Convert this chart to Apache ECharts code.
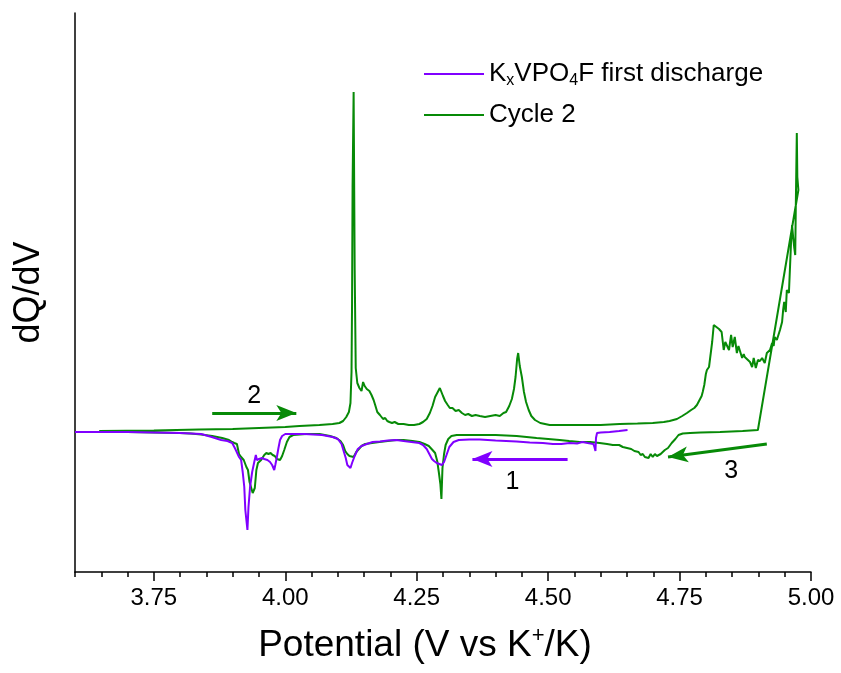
<!DOCTYPE html>
<html>
<head>
<meta charset="utf-8">
<script src="https://cdn.jsdelivr.net/npm/echarts@6/dist/echarts.min.js"></script>
<style>
html,body{margin:0;padding:0;background:#fff;}
#c{width:841px;height:673px;}
</style>
</head>
<body>
<div id="c"></div>
<script>
// ---- data (Potential in V, dQ/dV in arbitrary units) ----
const majorTicks = [3.75, 4.00, 4.25, 4.50, 4.75, 5.00];
const seriesNames = ['KxVPO4F first discharge', 'Cycle 2'];

const cycle2Charge = [
[3.646,0.01],[3.75,0.015],[3.836,0.025],[3.90,0.03],[3.950,0.04],[4.000,0.05],[4.027,0.06],[4.065,0.07],[4.090,0.08],[4.103,0.09],[4.110,0.11],[4.116,0.15],[4.121,0.20],[4.124,0.29],[4.126,0.60],[4.127,1.29],[4.128,2.45],[4.130,3.40],[4.132,1.62],[4.134,0.64],[4.137,0.49],[4.141,0.44],[4.145,0.41],[4.148,0.50],[4.151,0.46],[4.155,0.43],[4.160,0.41],[4.164,0.37],[4.168,0.32],[4.171,0.27],[4.175,0.20],[4.180,0.17],[4.183,0.15],[4.186,0.13],[4.190,0.14],[4.194,0.11],[4.198,0.10],[4.203,0.09],[4.208,0.10],[4.215,0.08],[4.225,0.08],[4.235,0.07],[4.245,0.07],[4.255,0.08],[4.262,0.10],[4.269,0.13],[4.275,0.19],[4.280,0.26],[4.285,0.35],[4.290,0.40],[4.294,0.44],[4.297,0.42],[4.300,0.36],[4.304,0.31],[4.309,0.27],[4.313,0.24],[4.318,0.24],[4.324,0.21],[4.330,0.22],[4.336,0.19],[4.342,0.17],[4.348,0.18],[4.355,0.16],[4.362,0.17],[4.370,0.16],[4.380,0.15],[4.390,0.16],[4.400,0.17],[4.408,0.16],[4.415,0.19],[4.420,0.20],[4.426,0.26],[4.431,0.33],[4.435,0.43],[4.438,0.55],[4.441,0.73],[4.443,0.79],[4.446,0.66],[4.450,0.55],[4.454,0.40],[4.458,0.30],[4.463,0.22],[4.468,0.16],[4.475,0.12],[4.485,0.09],[4.503,0.07],[4.540,0.07],[4.573,0.07],[4.600,0.07],[4.636,0.08],[4.670,0.085],[4.699,0.09],[4.720,0.10],[4.731,0.11],[4.745,0.13],[4.755,0.16],[4.764,0.19],[4.772,0.22],[4.778,0.24],[4.783,0.27],[4.788,0.32],[4.792,0.36],[4.794,0.40],[4.797,0.47],[4.800,0.58],[4.802,0.62],[4.806,0.65],[4.808,0.67],[4.812,0.90],[4.815,1.07],[4.820,1.05],[4.825,1.03],[4.830,1.00],[4.834,0.82],[4.837,0.90],[4.840,0.92],[4.844,0.82],[4.848,0.97],[4.851,0.85],[4.855,0.95],[4.859,0.79],[4.862,0.86],[4.865,0.85],[4.869,0.74],[4.872,0.78],[4.874,0.75],[4.877,0.73],[4.880,0.72],[4.884,0.70],[4.888,0.65],[4.891,0.74],[4.895,0.64],[4.899,0.72],[4.903,0.71],[4.907,0.74],[4.912,0.69],[4.916,0.79],[4.919,0.77],[4.922,0.82],[4.926,0.89],[4.929,0.86],[4.931,0.95],[4.935,0.92],[4.941,1.02],[4.945,1.10],[4.947,1.22],[4.949,1.30],[4.952,1.20],[4.954,1.42],[4.958,1.39],[4.962,1.89],[4.964,2.07],[4.966,1.95],[4.968,1.85],[4.970,1.77],[4.971,2.22],[4.973,2.99],[4.974,2.55],[4.976,2.42]
];

const cycle2Discharge = [
[4.899,0.02],[4.870,0.01],[4.827,0.00],[4.790,-0.005],[4.770,-0.01],[4.756,-0.015],[4.748,-0.03],[4.742,-0.07],[4.735,-0.11],[4.728,-0.16],[4.722,-0.18],[4.718,-0.20],[4.714,-0.22],[4.711,-0.20],[4.707,-0.24],[4.703,-0.22],[4.699,-0.25],[4.695,-0.22],[4.691,-0.26],[4.688,-0.24],[4.684,-0.25],[4.680,-0.22],[4.676,-0.23],[4.672,-0.20],[4.669,-0.21],[4.664,-0.19],[4.658,-0.17],[4.650,-0.16],[4.642,-0.15],[4.635,-0.13],[4.623,-0.13],[4.612,-0.12],[4.598,-0.11],[4.580,-0.10],[4.560,-0.10],[4.540,-0.09],[4.522,-0.08],[4.500,-0.07],[4.478,-0.06],[4.440,-0.04],[4.400,-0.03],[4.370,-0.03],[4.340,-0.03],[4.326,-0.03],[4.316,-0.04],[4.310,-0.07],[4.305,-0.13],[4.302,-0.22],[4.299,-0.36],[4.297,-0.67],[4.295,-0.52],[4.292,-0.40],[4.289,-0.29],[4.285,-0.21],[4.280,-0.18],[4.273,-0.14],[4.265,-0.12],[4.255,-0.10],[4.242,-0.09],[4.225,-0.08],[4.211,-0.08],[4.195,-0.09],[4.179,-0.10],[4.165,-0.11],[4.152,-0.12],[4.145,-0.14],[4.140,-0.17],[4.135,-0.20],[4.130,-0.25],[4.127,-0.26],[4.122,-0.24],[4.118,-0.22],[4.114,-0.19],[4.110,-0.13],[4.105,-0.09],[4.097,-0.06],[4.085,-0.04],[4.065,-0.02],[4.040,-0.02],[4.015,-0.03],[4.008,-0.05],[4.003,-0.10],[3.998,-0.18],[3.994,-0.24],[3.990,-0.28],[3.987,-0.29],[3.984,-0.27],[3.980,-0.24],[3.976,-0.23],[3.972,-0.21],[3.968,-0.22],[3.964,-0.21],[3.960,-0.23],[3.957,-0.24],[3.954,-0.28],[3.951,-0.26],[3.948,-0.31],[3.945,-0.38],[3.942,-0.56],[3.938,-0.61],[3.935,-0.60],[3.932,-0.50],[3.929,-0.38],[3.926,-0.35],[3.924,-0.35],[3.921,-0.28],[3.916,-0.25],[3.912,-0.22],[3.908,-0.12],[3.903,-0.11],[3.899,-0.10],[3.893,-0.08],[3.880,-0.06],[3.861,-0.04],[3.840,-0.025],[3.820,-0.015],[3.798,-0.01],[3.750,-0.005],[3.700,0.00],[3.650,0.00],[3.600,0.00]
];

const firstDischarge = [
[4.651,0.02],[4.635,0.01],[4.617,0.00],[4.600,-0.005],[4.593,-0.01],[4.591,-0.06],[4.590,-0.19],[4.588,-0.15],[4.586,-0.12],[4.583,-0.10],[4.575,-0.11],[4.565,-0.10],[4.555,-0.115],[4.541,-0.11],[4.525,-0.12],[4.509,-0.12],[4.490,-0.11],[4.465,-0.105],[4.440,-0.095],[4.420,-0.09],[4.400,-0.085],[4.385,-0.08],[4.370,-0.075],[4.350,-0.075],[4.330,-0.08],[4.320,-0.10],[4.312,-0.15],[4.306,-0.24],[4.302,-0.30],[4.298,-0.33],[4.293,-0.32],[4.288,-0.31],[4.283,-0.29],[4.279,-0.27],[4.274,-0.22],[4.269,-0.17],[4.262,-0.13],[4.255,-0.11],[4.240,-0.10],[4.225,-0.09],[4.211,-0.08],[4.195,-0.085],[4.180,-0.095],[4.166,-0.10],[4.155,-0.12],[4.145,-0.14],[4.138,-0.17],[4.132,-0.24],[4.127,-0.31],[4.124,-0.36],[4.121,-0.38],[4.118,-0.33],[4.115,-0.26],[4.111,-0.19],[4.107,-0.12],[4.100,-0.07],[4.090,-0.05],[4.070,-0.03],[4.036,-0.02],[4.000,-0.02],[3.994,-0.04],[3.990,-0.08],[3.987,-0.16],[3.984,-0.25],[3.981,-0.33],[3.979,-0.38],[3.977,-0.40],[3.975,-0.33],[3.971,-0.30],[3.966,-0.28],[3.960,-0.27],[3.956,-0.26],[3.950,-0.27],[3.946,-0.28],[3.944,-0.23],[3.941,-0.30],[3.937,-0.40],[3.933,-0.55],[3.930,-0.75],[3.928,-0.98],[3.926,-0.96],[3.924,-0.78],[3.922,-0.55],[3.919,-0.40],[3.916,-0.28],[3.912,-0.25],[3.909,-0.23],[3.905,-0.17],[3.899,-0.11],[3.890,-0.09],[3.878,-0.08],[3.860,-0.05],[3.840,-0.02],[3.800,-0.01],[3.700,0.00],[3.600,0.00]
];

// annotation arrows: [fromV, fromY, toV, toY]
const arrow1 = [4.537, -0.27, 4.356, -0.27];
const arrow2 = [3.861, 0.19, 4.021, 0.19];
const arrow3 = [4.916, -0.12, 4.728, -0.25];
// annotation labels: [V, y, text]
const labels = [[4.432, -0.50, '1'], [3.941, 0.36, '2'], [4.848, -0.39, '3']];

const PURPLE = '#8000ff';
const GREEN = '#078a07';
const FONT = '"Liberation Sans", Arial, sans-serif';

function arrowLine(a) {
  return [{coord: [a[0], a[1]]}, {coord: [a[2], a[3]]}];
}

const chart = echarts.init(document.getElementById('c'), null, {renderer: 'canvas'});
const option = {
  animation: false,
  backgroundColor: '#fff',
  textStyle: {fontFamily: FONT},
  grid: {left: 75, right: 30, top: 13, bottom: 101, containLabel: false},
  legend: {
    orient: 'vertical',
    left: 424, top: 61, padding: 0,
    icon: 'rect',
    itemWidth: 60, itemHeight: 2, itemGap: 13,
    data: seriesNames,
    formatter: function (name) {
      if (name === seriesNames[0]) return '{n|K}{s|x}{n|VPO}{s|4}{n|F first discharge}';
      return '{n|' + name + '}';
    },
    textStyle: {
      color: '#000',
      rich: {
        n: {fontSize: 26, lineHeight: 30, fontFamily: FONT, color: '#000'},
        s: {fontSize: 16, lineHeight: 10, verticalAlign: 'bottom', fontFamily: FONT, color: '#000'}
      }
    }
  },
  xAxis: [{
    type: 'value', min: 3.6, max: 5.0,
    name: '{n|Potential (V vs K}{p|+}{n|/K)}',
    nameLocation: 'middle', nameGap: 53,
    nameTextStyle: {
      padding: [0, 36, 0, 0],
      rich: {
        n: {fontSize: 37, lineHeight: 42, fontFamily: FONT, color: '#000'},
        p: {fontSize: 22, lineHeight: 24, verticalAlign: 'top', fontFamily: FONT, color: '#000'}
      }
    },
    axisLine: {show: true, onZero: false, lineStyle: {color: '#000', width: 1.5}},
    axisTick: {show: true, length: 9, inside: false, customValues: majorTicks, lineStyle: {color: '#000', width: 1.5}},
    axisLabel: {show: true, customValues: majorTicks, fontSize: 24, margin: 14, color: '#000', fontFamily: FONT,
      formatter: function (v) { return v.toFixed(2); }},
    splitLine: {show: false}
  }, {
    type: 'value', min: 3.6, max: 5.0, interval: 0.05, position: 'bottom',
    axisLine: {show: false, onZero: false},
    axisTick: {show: true, length: 5, lineStyle: {color: '#000', width: 1.5}},
    axisLabel: {show: false},
    splitLine: {show: false}
  }],
  yAxis: {
    type: 'value', min: -1.4, max: 4.19,
    name: 'dQ/dV', nameLocation: 'middle', nameGap: 28,
    nameTextStyle: {fontSize: 36, color: '#000', fontFamily: FONT},
    axisLine: {show: true, onZero: false, lineStyle: {color: '#000', width: 1.5}},
    axisTick: {show: false}, axisLabel: {show: false}, splitLine: {show: false}
  },
  series: [{
    name: seriesNames[1], type: 'line', xAxisIndex: 0,
    data: cycle2Charge.concat(cycle2Discharge),
    showSymbol: false, symbol: 'none',
    lineStyle: {color: GREEN, width: 2}, itemStyle: {color: GREEN},
    silent: true, z: 2,
    markLine: {
      silent: true, symbol: ['none', 'arrow'], symbolSize: [12, 20], precision: 5,
      label: {show: false},
      lineStyle: {color: GREEN, width: 3, type: 'solid'},
      emphasis: {disabled: true},
      data: [arrowLine(arrow2), arrowLine(arrow3)]
    },
    markPoint: {
      silent: true, symbol: 'circle', symbolSize: 1,
      itemStyle: {color: 'rgba(0,0,0,0)'},
      label: {show: true, position: 'inside', fontSize: 25, color: '#000', fontFamily: FONT,
        formatter: function (p) { return p.name; }},
      data: labels.map(l => ({name: l[2], coord: [l[0], l[1]]}))
    }
  }, {
    name: seriesNames[0], type: 'line', xAxisIndex: 0,
    data: firstDischarge,
    showSymbol: false, symbol: 'none',
    lineStyle: {color: PURPLE, width: 2}, itemStyle: {color: PURPLE},
    silent: true, z: 3,
    markLine: {
      silent: true, symbol: ['none', 'arrow'], symbolSize: [12, 20], precision: 5,
      label: {show: false},
      lineStyle: {color: PURPLE, width: 3, type: 'solid'},
      emphasis: {disabled: true},
      data: [arrowLine(arrow1)]
    }
  }]
};
chart.setOption(option);
</script>
</body>
</html>
